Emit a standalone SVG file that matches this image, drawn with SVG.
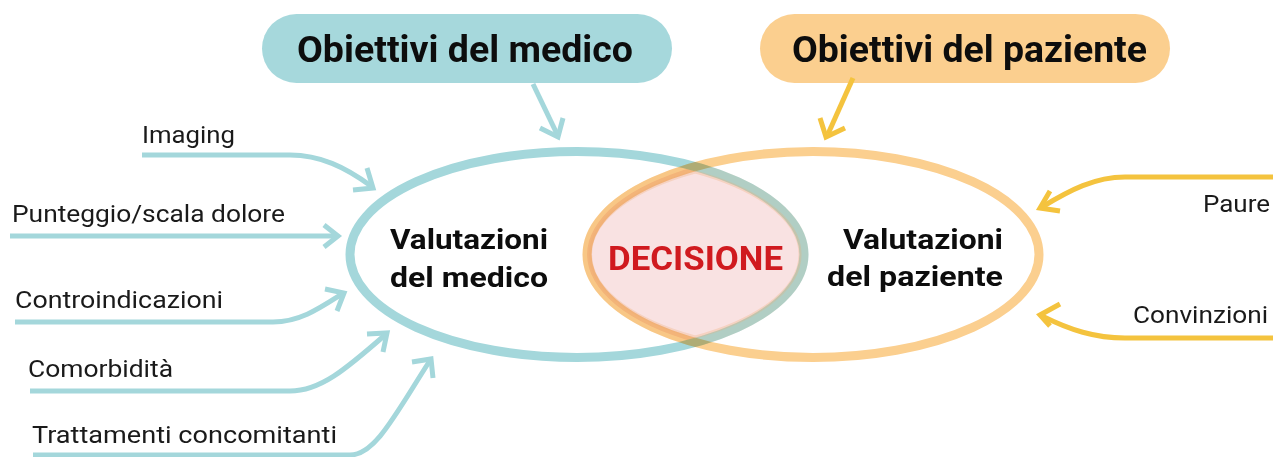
<svg xmlns="http://www.w3.org/2000/svg" width="1273" height="457" viewBox="0 0 1273 457">
<style>
.lbl{font-family:"Roboto","Liberation Sans",sans-serif;font-size:24px;fill:#1a1a1a}
.bold{font-family:"Roboto","Liberation Sans",sans-serif;font-weight:700;fill:#0d0d0d}
.teal{fill:none;stroke:#a4d7db;stroke-width:5;stroke-linecap:butt;stroke-linejoin:miter}
.gold{fill:none;stroke:#f4c33e;stroke-width:5;stroke-linejoin:miter}
</style>
<rect width="1273" height="457" fill="#fff"/>
<g id="obiettivi-medico">
<rect x="262" y="14" width="410" height="69" rx="34.5" fill="#a6d8dc"/>
<text class="bold" x="465" y="62" font-size="36" text-anchor="middle" textLength="336" lengthAdjust="spacingAndGlyphs">Obiettivi del medico</text>
</g>
<g id="obiettivi-paziente">
<rect x="760" y="14" width="410" height="69" rx="34.5" fill="#fbcf8f"/>
<text class="bold" x="969.5" y="62" font-size="36" text-anchor="middle" textLength="355" lengthAdjust="spacingAndGlyphs">Obiettivi del paziente</text>
</g>
<g id="decisione-fill">
<path d="M695.3,166.6 A227,103 0 0 1 695.3,342.4 A226,103 0 0 1 695.3,166.6 Z" fill="#f9e2e2"/>
</g>
<g id="valutazioni-medico">
<ellipse cx="577" cy="254.5" rx="227" ry="103" fill="none" stroke="#a4d7db" stroke-width="9"/>
<text class="bold" x="390" y="249" font-size="28" textLength="158" lengthAdjust="spacingAndGlyphs">Valutazioni</text>
<text class="bold" x="390" y="287" font-size="28" textLength="158" lengthAdjust="spacingAndGlyphs">del medico</text>
</g>
<g id="valutazioni-paziente">
<ellipse cx="813" cy="254.5" rx="226" ry="103" fill="none" stroke="#fbcf8f" stroke-width="9" style="mix-blend-mode:multiply"/>
<text class="bold" x="1003" y="249" font-size="28" text-anchor="end" textLength="160" lengthAdjust="spacingAndGlyphs">Valutazioni</text>
<text class="bold" x="1003" y="286" font-size="28" text-anchor="end" textLength="176" lengthAdjust="spacingAndGlyphs">del paziente</text>
</g>
<g id="decisione">
<path d="M695.3,166.6 A227,103 0 0 1 695.3,342.4 A226,103 0 0 1 695.3,166.6 Z" fill="none" stroke="#f0a860" stroke-opacity="0.18" stroke-width="9"/>
<path d="M695.3,172 A221,97 0 0 1 695.3,337 A221,97 0 0 1 695.3,172 Z" fill="none" stroke="#f0ad74" stroke-opacity="0.3" stroke-width="3"/>
<text x="695.5" y="270" font-family="Roboto,'Liberation Sans',sans-serif" font-weight="700" font-size="34" fill="#d01a1f" text-anchor="middle" textLength="175" lengthAdjust="spacingAndGlyphs">DECISIONE</text>
</g>
<g id="labels">
<text class="lbl" x="142" y="143" textLength="93" lengthAdjust="spacingAndGlyphs">Imaging</text>
<text class="lbl" x="12" y="222" textLength="273" lengthAdjust="spacingAndGlyphs">Punteggio/scala dolore</text>
<text class="lbl" x="15" y="308" textLength="208" lengthAdjust="spacingAndGlyphs">Controindicazioni</text>
<text class="lbl" x="28" y="377" textLength="145" lengthAdjust="spacingAndGlyphs">Comorbidità</text>
<text class="lbl" x="32" y="443" textLength="305" lengthAdjust="spacingAndGlyphs">Trattamenti concomitanti</text>
<text class="lbl" x="1270" y="212" text-anchor="end" textLength="67" lengthAdjust="spacingAndGlyphs">Paure</text>
<text class="lbl" x="1268" y="323" text-anchor="end" textLength="135" lengthAdjust="spacingAndGlyphs">Convinzioni</text>
</g>
<g id="connectors">
<path class="teal" d="M533,84 L557,134"/>
<path class="teal" d="M540,128 L558,137 L563,118"/>
<path class="gold" d="M853,78 L828,134"/>
<path class="gold" d="M820,118 L826,137 L845,128"/>
<path class="teal" d="M142,155 H290 C320,155 345,167 371,186"/>
<path class="teal" d="M367,168 L373,188 L353,190"/>
<path class="teal" d="M10,236 H337"/>
<path class="teal" d="M324,225 L338,236 L324,247"/>
<path class="teal" d="M15,322 H273 C300,322 320,308 342,294"/>
<path class="teal" d="M325,289 L344,293 L337,311"/>
<path class="teal" d="M30,391 H290 C320,391 345,370 385,335"/>
<path class="teal" d="M367,334 L387,333 L383,352"/>
<path class="teal" d="M33,455 H350 C375,455 395,415 429,362"/>
<path class="teal" d="M412,362 L431,359 L433,378"/>
<path class="gold" d="M1273,177 H1125 C1095,177 1070,190 1042,207"/>
<path class="gold" d="M1050,191 L1040,208 L1060,211"/>
<path class="gold" d="M1273,338 H1125 C1095,338 1070,330 1042,316"/>
<path class="gold" d="M1060,304 L1040,315 L1050,326"/>
</g>
</svg>
